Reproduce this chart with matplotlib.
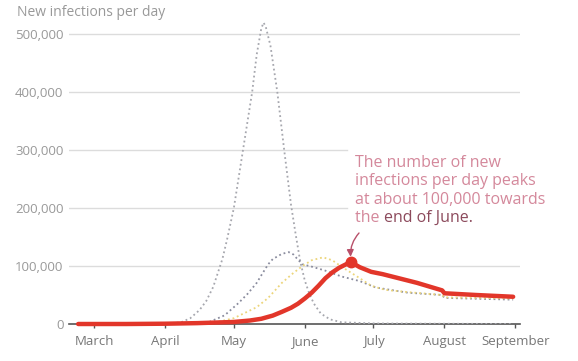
import matplotlib
matplotlib.use("Agg")
import matplotlib.pyplot as plt
import pandas as pd

# red: actual new infections per day
red_dates = ["2020-02-23", "2020-03-15", "2020-04-01", "2020-04-15", "2020-05-01", "2020-05-08",
             "2020-05-13", "2020-05-18", "2020-05-22", "2020-05-26", "2020-05-29", "2020-06-01",
             "2020-06-04", "2020-06-07", "2020-06-10", "2020-06-13", "2020-06-16", "2020-06-19",
             "2020-06-21", "2020-06-25", "2020-06-30", "2020-07-05", "2020-07-10", "2020-07-20",
             "2020-07-31", "2020-08-01", "2020-08-15", "2020-08-31"]
red_vals = [0, 0, 500, 1500, 3500, 6000,
            9000, 14500, 21000, 28000, 35000, 44000,
            54000, 66000, 79000, 89000, 97000, 103000,
            107000, 98000, 90000, 86000, 81000, 71000,
            58000, 53000, 50000, 47000]

# tall light grey dotted curve
tall_dates = ["2020-02-23", "2020-04-01", "2020-04-08", "2020-04-12", "2020-04-16", "2020-04-19",
              "2020-04-22", "2020-04-24", "2020-04-26", "2020-04-28", "2020-05-01", "2020-05-05",
              "2020-05-09", "2020-05-11", "2020-05-13", "2020-05-14", "2020-05-15", "2020-05-17",
              "2020-05-20", "2020-05-23", "2020-05-26", "2020-05-28", "2020-05-30", "2020-06-01",
              "2020-06-03", "2020-06-05", "2020-06-08", "2020-06-12", "2020-06-17", "2020-07-01",
              "2020-08-31"]
tall_vals = [0, 0, 3000, 10000, 24000, 40000,
             64000, 88000, 112000, 145000, 200000, 300000,
             400000, 465000, 510000, 520000, 512000, 480000,
             400000, 300000, 205000, 155000, 108000, 75000,
             52000, 35000, 18000, 8000, 3000, 1000,
             0]

# medium dark grey dotted curve
mid_dates = ["2020-02-23", "2020-04-10", "2020-04-16", "2020-04-20", "2020-04-27", "2020-05-03",
             "2020-05-07", "2020-05-11", "2020-05-13", "2020-05-16", "2020-05-18", "2020-05-22",
             "2020-05-25", "2020-05-27", "2020-05-29", "2020-05-31", "2020-06-04", "2020-06-10",
             "2020-06-17", "2020-06-25", "2020-07-02", "2020-07-16", "2020-07-31", "2020-08-01",
             "2020-08-31"]
mid_vals = [0, 0, 1000, 3000, 15000, 36000,
            52000, 71000, 84000, 103000, 112000, 121000,
            124000, 120000, 111000, 103000, 99000, 92000,
            82000, 74000, 63000, 54000, 50000, 45000,
            42000]

# yellow dotted curve
yel_dates = ["2020-02-23", "2020-04-15", "2020-04-21", "2020-05-01", "2020-05-11", "2020-05-16",
             "2020-05-22", "2020-05-27", "2020-05-31", "2020-06-04", "2020-06-09", "2020-06-13",
             "2020-06-17", "2020-06-21", "2020-06-25", "2020-06-30", "2020-07-06", "2020-07-16",
             "2020-07-31", "2020-08-01", "2020-08-31"]
yel_vals = [0, 0, 1000, 10000, 29000, 45000,
            71000, 88000, 100000, 110000, 115000, 110000,
            99000, 89000, 79000, 66000, 59000, 55000,
            50000, 46000, 44000]

peak_date = "2020-06-21"
peak_val = 107000

month_ticks = ["2020-03-01", "2020-04-01", "2020-05-01", "2020-06-01", "2020-07-01", "2020-08-01", "2020-09-01"]
month_labels = ["March", "April", "May", "June", "July", "August", "September"]
y_ticks = [0, 100000, 200000, 300000, 400000, 500000]

plt.rcParams['font.family'] = ['Open Sans', 'DejaVu Sans']

fig = plt.figure(figsize=(5.78, 3.61), dpi=100)
ax = fig.add_axes([69/578, 37/361, 451/578, 313/361])

dot = (0, (1, 1.6))
ax.plot(pd.to_datetime(tall_dates), tall_vals, color="#a6a7ae", lw=1.3, ls=dot, zorder=3)
ax.plot(pd.to_datetime(mid_dates), mid_vals, color="#8a8c9e", lw=1.3, ls=dot, zorder=3)
ax.plot(pd.to_datetime(yel_dates), yel_vals, color="#ecd57a", lw=1.3, ls=dot, zorder=3)
ax.plot(pd.to_datetime(red_dates), red_vals, color="#e2362a", lw=3.2, zorder=5,
        solid_capstyle="round", solid_joinstyle="round", clip_on=False)
ax.plot(pd.to_datetime([peak_date]), [peak_val], "o", color="#e2362a", ms=7.5, zorder=6)

ax.set_xlim(pd.Timestamp("2020-02-19"), pd.Timestamp("2020-09-03"))
ax.set_ylim(0, 540000)

# gridlines, the two behind the note stop short
for v in y_ticks[1:]:
    if v in (200000, 300000):
        ax.axhline(v, xmin=0, xmax=0.616, color="#dcdcdc", lw=1, zorder=1)
    else:
        ax.axhline(v, color="#dcdcdc", lw=1, zorder=1)

ax.set_yticks(y_ticks)
ax.set_yticklabels(["{:,}".format(v) for v in y_ticks])
ax.set_xticks(pd.to_datetime(month_ticks))
ax.set_xticklabels(month_labels)
ax.tick_params(axis="y", length=0, pad=4, labelsize=9.5, labelcolor="#999999")
ax.tick_params(axis="x", length=3, width=1, color="#555555", pad=5, labelsize=9.5, labelcolor="#777777")

for s in ["top", "right", "left"]:
    ax.spines[s].set_visible(False)
ax.spines["bottom"].set_color("#555555")
ax.spines["bottom"].set_linewidth(1.2)
ax.set_facecolor("none")

fig.text(17/578, 1 - 12/361, "New infections per day", fontsize=10, color="#999999", va="center", ha="left")

# note
pink = "#d4889b"
dark = "#8c4a5c"
fs = 11.5
lines = ["The number of new", "infections per day peaks", "at about 100,000 towards"]
for i, s in enumerate(lines):
    fig.text(355/578, 1 - (163 + i*18.3)/361, s, fontsize=fs, color=pink, va="center", ha="left")
t = fig.text(355/578, 1 - (163 + 3*18.3)/361, "the ", fontsize=fs, color=pink, va="center", ha="left")
fig.canvas.draw()
bb = t.get_window_extent()
fig.text(bb.x1/578, 1 - (163 + 3*18.3)/361, "end of June.", fontsize=fs, color=dark, va="center", ha="left")

ax.annotate("", xy=(pd.Timestamp(peak_date), peak_val + 9000), xycoords="data",
            xytext=(359/578, 1 - 233/361), textcoords="figure fraction",
            arrowprops=dict(arrowstyle="-|>,head_length=0.4,head_width=0.2", color="#b8506a",
                            lw=1, connectionstyle="arc3,rad=0.2", shrinkA=0, shrinkB=0))

fig.savefig("out.png", dpi=100)
